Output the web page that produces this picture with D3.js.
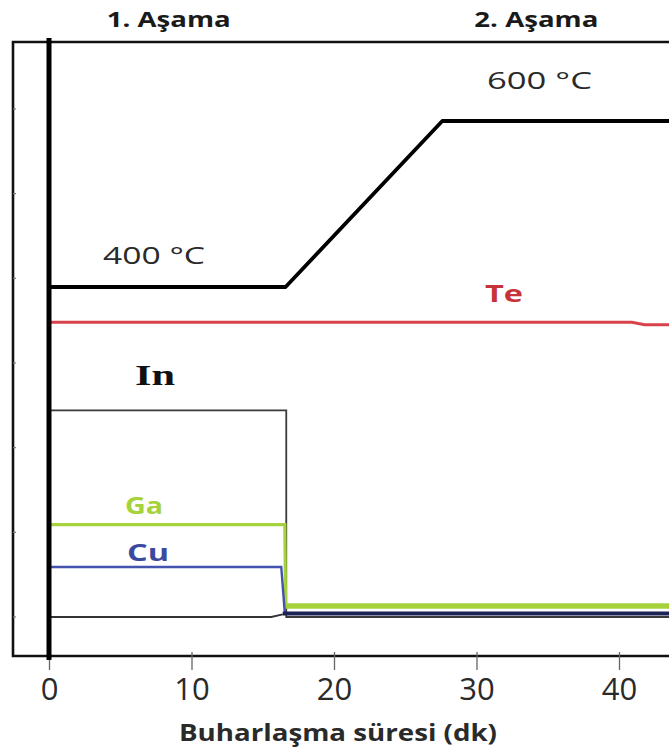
<!DOCTYPE html>
<html>
<head>
<meta charset="utf-8">
<script src="https://cdn.jsdelivr.net/npm/d3@7"></script>
<style>
  html, body { margin: 0; padding: 0; background: #fff; }
  svg { display: block; }
</style>
</head>
<body>
<svg id="chart" width="669" height="753"></svg>
<script>
// ---- data ----
const timeTicks = [0, 10, 20, 30, 40];
const fluxTicks = [0, 1, 2, 3, 4, 5, 6];
const stageLabels = ["1. Aşama", "2. Aşama"];
const stageTimes = [8.4, 34.2];

const tempTime   = [0, 16.6, 27.6, 44];
const tempValues = [400, 400, 600, 600];
const tempLabels = ["400 °C", "600 °C"];

const teTime   = [0, 40.9, 41.8, 44];
const teValues = [3.48, 3.48, 3.45, 3.45];

const inTime   = [0, 16.65, 16.65, 44];
const inValues = [2.44, 2.44, 0, 0];

const baseTime   = [0, 15.6, 16.4];
const baseValues = [0, 0, 0.03];

const gaTime   = [0, 16.55, 16.6, 44];
const gaValues = [1.09, 1.09, 0.13, 0.13];

const cuTime1   = [0, 16.3, 16.55];
const cuValues1 = [0.59, 0.59, 0.04];
const cuTime2   = [16.4, 44];
const cuValues2 = [0.04, 0.04];

// ---- layout ----
const svg = d3.select("#chart");
const x = d3.scaleLinear().domain([0, 40]).range([49, 619]);
const y = d3.scaleLinear().domain([0, 6.79]).range([617, 42]);
const yT = d3.scaleLinear().domain([400, 600]).range([287, 121]);

const frameLeft = 13, frameTop = 42, frameBottom = 656;
const font = "Open Sans, sans-serif";

// frame
svg.append("path")
  .attr("d", `M700,${frameTop} H${frameLeft} V${frameBottom} H700`)
  .attr("fill", "none").attr("stroke", "#111").attr("stroke-width", 2.6);

// faint inward ticks on left frame
svg.append("g").selectAll("line").data(fluxTicks).join("line")
  .attr("x1", frameLeft).attr("x2", frameLeft + 3)
  .attr("y1", d => y(d)).attr("y2", d => y(d))
  .attr("stroke", "#777").attr("stroke-width", 1.2);

// x axis
const xAxis = svg.append("g")
  .attr("transform", `translate(0,${frameBottom})`)
  .call(d3.axisBottom(x).tickValues(timeTicks).tickSize(14).tickPadding(12).tickFormat(d3.format("d")));
xAxis.select(".domain").remove();
xAxis.selectAll(".tick line").attr("stroke", "#666").attr("stroke-width", 1.3).attr("y1", -4);
xAxis.selectAll(".tick text")
  .attr("font-family", font).attr("font-size", 31)
  .attr("y", 22).attr("dy", "0.71em")
  .attr("fill", "#2a2a2a");

svg.append("text")
  .attr("x", 338).attr("y", 741)
  .attr("text-anchor", "middle")
  .attr("font-family", font).attr("font-weight", 700)
  .attr("font-size", 23).attr("fill", "#2a2a2a")
  .attr("textLength", 318).attr("lengthAdjust", "spacingAndGlyphs")
  .text("Buharlaşma süresi (dk)");

// stage labels
svg.append("g").selectAll("text").data(stageLabels).join("text")
  .attr("x", (d, i) => x(stageTimes[i])).attr("y", 27)
  .attr("text-anchor", "middle")
  .attr("font-family", font).attr("font-weight", 700)
  .attr("font-size", 22).attr("fill", "#1a1a1a")
  .attr("textLength", 124).attr("lengthAdjust", "spacingAndGlyphs")
  .text(d => d);

const lineXY = (ts, vs, sc) => d3.line().x((d, i) => x(ts[i])).y((d, i) => sc(vs[i]))(vs);
svg.append("defs").append("clipPath").attr("id", "clip")
  .append("rect").attr("x", 0).attr("y", 0).attr("width", 669).attr("height", 753);
const g = svg.append("g").attr("clip-path", "url(#clip)");

// series
g.append("path").attr("d", lineXY(baseTime, baseValues, y))
  .attr("fill", "none").attr("stroke", "#333").attr("stroke-width", 1.8);
g.append("path").attr("d", lineXY(inTime, inValues, y))
  .attr("fill", "none").attr("stroke", "#3a3a3a").attr("stroke-width", 1.8);
g.append("path").attr("d", lineXY(gaTime, gaValues, y))
  .attr("fill", "none").attr("stroke", "#a6d23c").attr("stroke-width", 3.2);
g.append("path").attr("d", lineXY(gaTime.slice(2), gaValues.slice(2), y))
  .attr("fill", "none").attr("stroke", "#a6d23c").attr("stroke-width", 5.5);
g.append("path").attr("d", lineXY(cuTime1, cuValues1, y))
  .attr("fill", "none").attr("stroke", "#4453ad").attr("stroke-width", 2.4);
g.append("path").attr("d", lineXY(cuTime2, cuValues2, y))
  .attr("fill", "none").attr("stroke", "#1b2455").attr("stroke-width", 4);
g.append("path").attr("d", lineXY(teTime, teValues, y))
  .attr("fill", "none").attr("stroke", "#d8434b").attr("stroke-width", 3);
g.append("path").attr("d", lineXY(tempTime, tempValues, yT))
  .attr("fill", "none").attr("stroke", "#000").attr("stroke-width", 3.8)
  .attr("stroke-linejoin", "round");

// thick y axis line at t=0
svg.append("line")
  .attr("x1", x(0)).attr("x2", x(0)).attr("y1", 38).attr("y2", 660)
  .attr("stroke", "#000").attr("stroke-width", 5);

// temperature labels
svg.append("text").attr("x", 103).attr("y", 264)
  .attr("font-family", font).attr("font-size", 24).attr("fill", "#2a2a2a")
  .attr("textLength", 102).attr("lengthAdjust", "spacingAndGlyphs")
  .text(tempLabels[0]);
svg.append("text").attr("x", 487).attr("y", 89)
  .attr("font-family", font).attr("font-size", 24).attr("fill", "#2a2a2a")
  .attr("textLength", 105).attr("lengthAdjust", "spacingAndGlyphs")
  .text(tempLabels[1]);

// series labels
svg.append("text").attr("x", 485).attr("y", 302)
  .attr("font-family", font).attr("font-weight", 700)
  .attr("font-size", 23).attr("fill", "#c8323a")
  .attr("textLength", 38).attr("lengthAdjust", "spacingAndGlyphs").text("Te");
svg.append("text").attr("x", 135).attr("y", 385)
  .attr("font-family", "Liberation Serif, serif").attr("font-weight", 700)
  .attr("font-size", 29).attr("fill", "#111")
  .attr("textLength", 40).attr("lengthAdjust", "spacingAndGlyphs").text("In");
svg.append("text").attr("x", 125).attr("y", 514)
  .attr("font-family", font).attr("font-weight", 700)
  .attr("font-size", 23).attr("fill", "#a6d23c")
  .attr("textLength", 38).attr("lengthAdjust", "spacingAndGlyphs").text("Ga");
svg.append("text").attr("x", 127).attr("y", 561)
  .attr("font-family", font).attr("font-weight", 700)
  .attr("font-size", 23).attr("fill", "#3a4a9f")
  .attr("textLength", 42).attr("lengthAdjust", "spacingAndGlyphs").text("Cu");
</script>
</body>
</html>
